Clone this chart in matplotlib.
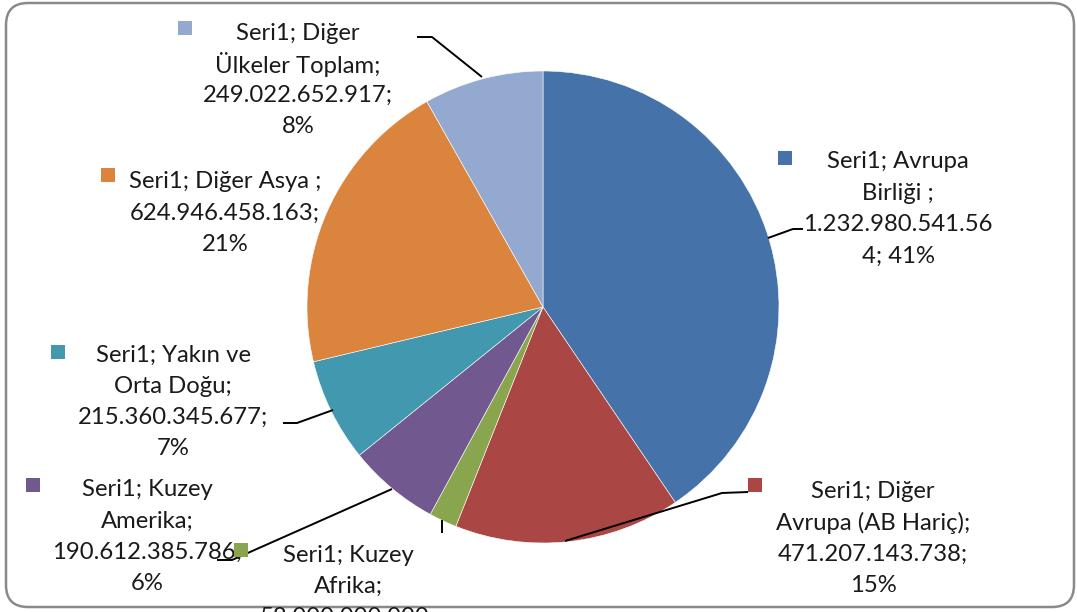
import matplotlib
matplotlib.use("Agg")
import matplotlib.pyplot as plt
from matplotlib.patches import FancyBboxPatch, Rectangle

# ---- data ----
series_name = "Seri1"
categories = ["Avrupa Birliği ", "Diğer Avrupa (AB Hariç)", "Kuzey Afrika",
              "Kuzey Amerika", "Yakın ve Orta Doğu", "Diğer Asya ",
              "Diğer Ülkeler Toplam"]
values = [1232980541564, 471207143738, 58000000000,
          190612385786, 215360345677, 624946458163, 249022652917]
colors = ["#4572A8", "#AA4643", "#89A54E", "#71588F", "#4198AF", "#DB843D", "#93A9CF"]

# ---- layout (pixels, y from top) ----
W, H = 1077, 612
CX, CY, R = 543, 307, 236
# label: (center x, first line y, wrap width, marker x, marker y)
label_pos = [
    (898, 162, 16, 785, 158),
    (873, 492, 18, 755, 485),
    (348, 555, 15, 241, 550),
    (147, 490, 16, 33, 485),
    (173, 355, 16, 58, 352),
    (225, 182, 19, 108, 175),
    (298, 33, 16, 185, 28),
]
leaders = [
    [(803, 229), (793, 229), (768, 238)],
    [(748, 492), (722, 493), (565, 541)],
    [(442, 520), (442, 533)],
    [(217, 560), (232, 560), (392, 489)],
    [(283, 423), (297, 423), (333, 410)],
    None,
    [(417, 37), (432, 37), (482, 77)],
]
LINE_DY = 31.3


def wrap(text, width):
    # greedy word wrap; over-long words start a new line and are chopped
    words = text.split(" ")
    lines, cur = [], ""
    for w in words:
        cand = w if not cur else cur + " " + w
        if len(cand) <= width:
            cur = cand
            continue
        if cur:
            lines.append(cur)
        cur = w
        while len(cur) > width:
            lines.append(cur[:width])
            cur = cur[width:]
    if cur:
        lines.append(cur)
    return lines


fig = plt.figure(figsize=(W / 100, H / 100), dpi=100)
fig.patch.set_facecolor("white")
ax = fig.add_axes([0, 0, 1, 1])


def Y(y):
    return H - y


ax.pie(values, colors=colors, startangle=90, counterclock=False,
       center=(CX, Y(CY)), radius=R,
       wedgeprops=dict(edgecolor="white", linewidth=0.4))
ax.set_xlim(0, W)
ax.set_ylim(0, H)
ax.set_aspect("equal")
ax.axis("off")

# border
ax.add_patch(FancyBboxPatch((6, Y(607)), 1068, 604,
                            boxstyle="round,pad=0,rounding_size=22",
                            fill=False, edgecolor="#8a8a8a", linewidth=1.8,
                            clip_on=False))

# leader lines
for pts in leaders:
    if pts:
        ax.plot([p[0] for p in pts], [Y(p[1]) for p in pts],
                color="black", linewidth=1.4, solid_capstyle="butt", zorder=3)

total = sum(values)
for cat, v, col, (lx, ly, wd, mx, my) in zip(categories, values, colors, label_pos):
    pct = round(v / total * 100)
    num = f"{v:,}".replace(",", ".")
    full = f"{series_name}; {cat}; {num}; {pct}%"
    for i, ln in enumerate(wrap(full, wd)):
        ax.text(lx, Y(ly + i * LINE_DY), ln, ha="center", va="center",
                fontsize=17.2, family=["Lato", "DejaVu Sans"], color="#1a1a1a",
                zorder=5)
    ax.add_patch(Rectangle((mx - 7, Y(my) - 7), 14, 14, facecolor=col,
                           edgecolor="none", zorder=6))

fig.savefig("out.png", dpi=100, facecolor="white")
